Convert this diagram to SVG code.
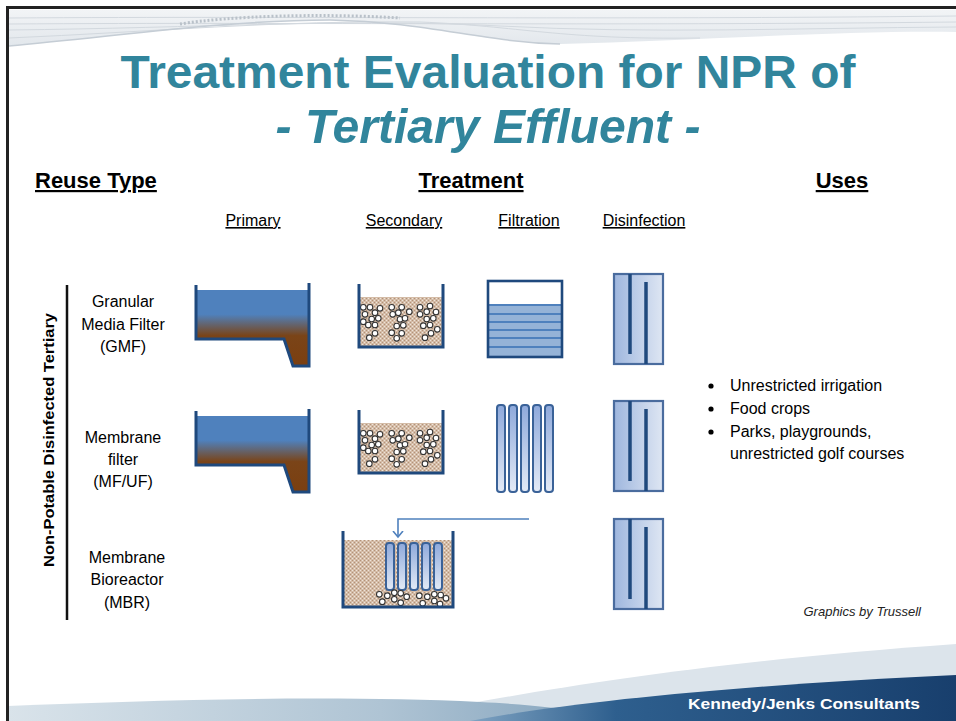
<svg xmlns="http://www.w3.org/2000/svg" xmlns:xlink="http://www.w3.org/1999/xlink" width="956" height="721" viewBox="0 0 956 721">
  <style>
    .title { font-family: "Liberation Sans", Arial, sans-serif; font-weight: bold; fill: #31859C; }
    .head { font-family: "Liberation Sans", Arial, sans-serif; font-weight: bold; font-size: 22px; fill: #000; text-decoration: underline; }
    .sub { font-family: "Liberation Sans", Arial, sans-serif; font-size: 16px; fill: #000; text-decoration: underline; }
    .lbl { font-family: "Liberation Sans", Arial, sans-serif; font-size: 16px; fill: #000; text-anchor: middle; }
    .use { font-family: "Liberation Sans", Arial, sans-serif; font-size: 16px; fill: #000; }
    .wall { fill: none; stroke: #1F497D; stroke-width: 3; stroke-linejoin: miter; }
    .bead { fill: #fff; stroke: #333; stroke-width: 1.1; }
    .tube { fill: url(#tubeGrad); stroke: #3A6298; stroke-width: 2; }
    .baffle { stroke: #1F497D; stroke-width: 3.5; }
    .conn { fill: none; stroke: #4F81BD; stroke-width: 1.6; }
  </style>
  <defs>
    <linearGradient id="waterGrad" gradientUnits="userSpaceOnUse" x1="0" y1="290" x2="0" y2="366">
      <stop offset="0" stop-color="#4F81BD"/>
      <stop offset="0.32" stop-color="#4F81BD"/>
      <stop offset="0.6" stop-color="#7A4418"/>
      <stop offset="1" stop-color="#7B3F10"/>
    </linearGradient>
    <linearGradient id="uvGrad" x1="0" y1="0" x2="1" y2="0">
      <stop offset="0" stop-color="#9FB7DE"/>
      <stop offset="1" stop-color="#DEE6F3"/>
    </linearGradient>
    <linearGradient id="tubeGrad" x1="0" y1="0" x2="0" y2="1">
      <stop offset="0" stop-color="#8EA9DB"/>
      <stop offset="1" stop-color="#E3EAF6"/>
    </linearGradient>
    <linearGradient id="bandGrad" x1="0" y1="0" x2="1" y2="0">
      <stop offset="0" stop-color="#D9E3EA"/>
      <stop offset="0.6" stop-color="#AFC4D4"/>
      <stop offset="1" stop-color="#7E9FBA"/>
    </linearGradient>
    <linearGradient id="darkGrad" x1="0" y1="0" x2="1" y2="0">
      <stop offset="0" stop-color="#7FA3C2"/>
      <stop offset="0.3" stop-color="#2E5F8E"/>
      <stop offset="1" stop-color="#183F6D"/>
    </linearGradient>
    <linearGradient id="topGrad" x1="0" y1="0" x2="0" y2="1">
      <stop offset="0" stop-color="#F2F4F6"/>
      <stop offset="1" stop-color="#E2E7EC"/>
    </linearGradient>
    <pattern id="sludge" width="4" height="4" patternUnits="userSpaceOnUse">
      <rect width="4" height="4" fill="#D4BCA7"/>
      <rect x="0" y="0" width="1" height="1" fill="#B39279"/>
      <rect x="2" y="2" width="1" height="1" fill="#B39279"/>
      <rect x="2" y="0" width="1" height="1" fill="#EEE4DA"/>
      <rect x="0" y="2" width="1" height="1" fill="#EEE4DA"/>
    </pattern>
    <marker id="chev" markerWidth="12" markerHeight="12" refX="6" refY="6" orient="auto" markerUnits="userSpaceOnUse">
      <polyline points="0,1 6,6 0,11" fill="none" stroke="#4F81BD" stroke-width="1.6"/>
    </marker>

    <!-- primary clarifier: sloped sump on the right -->
    <g id="primaryTank">
      <path d="M196,290 L309,290 L309,366 L293,366 L284,339 L196,339 Z" fill="url(#waterGrad)"/>
      <path class="wall" d="M196,285 L196,339 L284,339 L293,366 L309,366 L309,283"/>
    </g>

    <!-- activated sludge basin with floc -->
    <g id="secondaryTank">
      <rect x="359" y="297" width="84" height="50" fill="url(#sludge)"/>
      <g>
        <circle class="bead" cx="363.3" cy="307.3" r="2.8"/><circle class="bead" cx="370" cy="307.3" r="2.8"/>
        <circle class="bead" cx="380" cy="308.3" r="2.8"/><circle class="bead" cx="365" cy="314.3" r="2.8"/>
        <circle class="bead" cx="375" cy="312.7" r="2.8"/><circle class="bead" cx="371.7" cy="319" r="2.8"/>
        <circle class="bead" cx="378.3" cy="318.3" r="2.8"/><circle class="bead" cx="363.3" cy="321.7" r="2.8"/>
        <circle class="bead" cx="368.3" cy="325" r="2.8"/><circle class="bead" cx="375" cy="325" r="2.8"/>
        <circle class="bead" cx="369.3" cy="337.7" r="2.8"/><circle class="bead" cx="375" cy="333.3" r="2.8"/>
        <circle class="bead" cx="391.7" cy="307.3" r="2.8"/><circle class="bead" cx="398.3" cy="312.7" r="2.8"/>
        <circle class="bead" cx="401.7" cy="307.3" r="2.8"/><circle class="bead" cx="409.3" cy="311.7" r="2.8"/>
        <circle class="bead" cx="392.7" cy="314.3" r="2.8"/><circle class="bead" cx="400" cy="319.3" r="2.8"/>
        <circle class="bead" cx="405" cy="318.3" r="2.8"/><circle class="bead" cx="396.7" cy="326" r="2.8"/>
        <circle class="bead" cx="403.3" cy="325.3" r="2.8"/><circle class="bead" cx="391.7" cy="332.7" r="2.8"/>
        <circle class="bead" cx="401.7" cy="333.3" r="2.8"/><circle class="bead" cx="396.7" cy="338.3" r="2.8"/>
        <circle class="bead" cx="420" cy="307.3" r="2.8"/><circle class="bead" cx="426.7" cy="311.7" r="2.8"/>
        <circle class="bead" cx="430" cy="306" r="2.8"/><circle class="bead" cx="436" cy="312" r="2.8"/>
        <circle class="bead" cx="420" cy="314.3" r="2.8"/><circle class="bead" cx="426.7" cy="319" r="2.8"/>
        <circle class="bead" cx="433.3" cy="318.3" r="2.8"/><circle class="bead" cx="423.3" cy="325.7" r="2.8"/>
        <circle class="bead" cx="430" cy="325" r="2.8"/><circle class="bead" cx="437.3" cy="329.3" r="2.8"/>
        <circle class="bead" cx="431" cy="333.3" r="2.8"/><circle class="bead" cx="425" cy="337.7" r="2.8"/>
      </g>
      <path class="wall" d="M359,284 L359,347 L443,347 L443,284" stroke-width="2.6"/>
    </g>

    <!-- chlorine contact basin with two baffles -->
    <g id="disinfectTank">
      <rect x="614" y="274" width="49" height="90" fill="url(#uvGrad)" stroke="#4A6C9E" stroke-width="2.2"/>
      <line class="baffle" x1="630" y1="274" x2="630" y2="354"/>
      <line class="baffle" x1="646" y1="282" x2="646" y2="364"/>
    </g>
  </defs>

  <!-- slide background -->
  <rect width="956" height="721" fill="#fff"/>

  <!-- top swoosh -->
  <path d="M9,10 L956,10 L956,32 C860,30 700,40 560,44 C480,42 430,22 330,20 C230,20 120,36 9,46 Z" fill="url(#topGrad)"/>
  <g fill="none" stroke="#D3D9DF" stroke-width="1">
    <path d="M9,18 C300,16 600,20 956,16"/>
    <path d="M9,24 C300,22 600,26 956,22"/>
    <path d="M9,30 C200,28 350,18 500,26 C650,34 800,28 956,27"/>
    <path d="M9,38 C150,32 280,20 420,22 C520,26 560,40 700,38"/>
  </g>
  <path d="M180,24 C230,16 320,13 400,18" fill="none" stroke="#B9C1C9" stroke-width="3" stroke-dasharray="2 2"/>
  <path d="M9,46 C120,36 230,20 330,20 C430,22 480,42 560,44" fill="none" stroke="#C5CDD5" stroke-width="1.5"/>

  <!-- bottom swoosh -->
  <path d="M380,721 C520,692 700,662 956,644 L956,721 Z" fill="#DCE4EB"/>
  <path d="M8,706 C160,700 330,695 480,702 C560,706 600,714 630,721 L8,721 Z" fill="url(#bandGrad)"/>
  <path d="M470,721 C580,700 760,684 956,675 L956,721 Z" fill="url(#darkGrad)"/>

  <!-- slide frame -->
  <path d="M7.5,721 L7.5,7.5 L956,7.5" fill="none" stroke="#222" stroke-width="3"/>

  <!-- titles -->
  <text class="title" x="488" y="88" font-size="47" text-anchor="middle" textLength="735" lengthAdjust="spacingAndGlyphs">Treatment Evaluation for NPR of</text>
  <text class="title" x="488" y="143" font-size="48" font-style="italic" text-anchor="middle" textLength="425" lengthAdjust="spacingAndGlyphs">- Tertiary Effluent -</text>

  <!-- column headings -->
  <text class="head" x="35" y="188">Reuse Type</text>
  <text class="head" x="471" y="188" text-anchor="middle">Treatment</text>
  <text class="head" x="842" y="188" text-anchor="middle">Uses</text>

  <text class="sub" x="253" y="226" text-anchor="middle">Primary</text>
  <text class="sub" x="404" y="226" text-anchor="middle">Secondary</text>
  <text class="sub" x="529" y="226" text-anchor="middle">Filtration</text>
  <text class="sub" x="644" y="226" text-anchor="middle">Disinfection</text>

  <!-- reuse category -->
  <g id="category">
    <line x1="67" y1="285" x2="67" y2="620" stroke="#111" stroke-width="2.5"/>
    <text transform="translate(54,440) rotate(-90)" font-family="Liberation Sans, Arial, sans-serif" font-weight="bold" font-size="15.5" text-anchor="middle" textLength="254" lengthAdjust="spacingAndGlyphs">Non-Potable Disinfected Tertiary</text>
  </g>

  <!-- row 1: granular media filter -->
  <g id="row-gmf">
    <text class="lbl" x="123" y="307">Granular</text>
    <text class="lbl" x="123" y="330">Media Filter</text>
    <text class="lbl" x="123" y="352">(GMF)</text>
    <use xlink:href="#primaryTank"/>
    <use xlink:href="#secondaryTank"/>
    <g id="gmf-filter">
      <rect x="488" y="281" width="74" height="76" fill="#fff"/>
      <rect x="488" y="305" width="74" height="52" fill="#95B3D7"/>
      <g stroke="#4F81BD" stroke-width="2">
        <line x1="488" y1="305" x2="562" y2="305"/>
        <line x1="488" y1="314" x2="562" y2="314"/>
        <line x1="488" y1="322" x2="562" y2="322"/>
        <line x1="488" y1="330" x2="562" y2="330"/>
        <line x1="488" y1="338" x2="562" y2="338"/>
        <line x1="488" y1="347" x2="562" y2="347"/>
      </g>
      <rect x="488" y="281" width="74" height="76" fill="none" stroke="#1F497D" stroke-width="2.6"/>
    </g>
    <use xlink:href="#disinfectTank"/>
  </g>

  <!-- row 2: membrane filter -->
  <g id="row-mf">
    <text class="lbl" x="123" y="443">Membrane</text>
    <text class="lbl" x="123" y="465">filter</text>
    <text class="lbl" x="123" y="487">(MF/UF)</text>
    <use xlink:href="#primaryTank" transform="translate(0,126)"/>
    <use xlink:href="#secondaryTank" transform="translate(0,126)"/>
    <g id="mf-modules">
      <rect class="tube" x="497" y="405" width="8" height="87" rx="3"/>
      <rect class="tube" x="509" y="405" width="8" height="87" rx="3"/>
      <rect class="tube" x="521" y="405" width="8" height="87" rx="3"/>
      <rect class="tube" x="533" y="405" width="8" height="87" rx="3"/>
      <rect class="tube" x="545" y="405" width="8" height="87" rx="3"/>
    </g>
    <use xlink:href="#disinfectTank" transform="translate(0,127)"/>
  </g>

  <!-- row 3: membrane bioreactor -->
  <g id="row-mbr">
    <text class="lbl" x="127" y="563">Membrane</text>
    <text class="lbl" x="127" y="585">Bioreactor</text>
    <text class="lbl" x="127" y="608">(MBR)</text>
    <g id="mbr-basin">
      <rect x="343" y="540" width="110" height="67" fill="url(#sludge)"/>
      <rect class="tube" x="386" y="543" width="8" height="47" rx="3"/>
      <rect class="tube" x="398" y="543" width="8" height="47" rx="3"/>
      <rect class="tube" x="410" y="543" width="8" height="47" rx="3"/>
      <rect class="tube" x="422" y="543" width="8" height="47" rx="3"/>
      <rect class="tube" x="434" y="543" width="8" height="47" rx="3"/>
      <circle class="bead" cx="379.3" cy="594.3" r="2.8"/><circle class="bead" cx="387.3" cy="595.7" r="2.8"/>
      <circle class="bead" cx="394.3" cy="592.7" r="2.8"/><circle class="bead" cx="400.7" cy="593.3" r="2.8"/>
      <circle class="bead" cx="406.7" cy="596.7" r="2.8"/><circle class="bead" cx="382.3" cy="601.7" r="2.8"/>
      <circle class="bead" cx="394.3" cy="599.3" r="2.8"/><circle class="bead" cx="400.7" cy="602.7" r="2.8"/>
      <circle class="bead" cx="419.3" cy="595.7" r="2.8"/><circle class="bead" cx="427.3" cy="596.7" r="2.8"/>
      <circle class="bead" cx="434.3" cy="594.3" r="2.8"/><circle class="bead" cx="440.7" cy="595" r="2.8"/>
      <circle class="bead" cx="446" cy="598.3" r="2.8"/><circle class="bead" cx="422.7" cy="603.3" r="2.8"/>
      <circle class="bead" cx="434.3" cy="601" r="2.8"/><circle class="bead" cx="440" cy="604" r="2.8"/>
      <path class="wall" d="M343,531 L343,607 L453,607 L453,531" stroke-width="2.6"/>
    </g>
    <use xlink:href="#disinfectTank" transform="translate(0,245)"/>
  </g>

  <!-- connectors -->
  <g id="connectors">
    <path class="conn" d="M529,519 L398,519 L398,537" marker-end="url(#chev)"/>
  </g>

  <!-- uses -->
  <g id="uses">
    <circle cx="711" cy="386" r="2.6" fill="#000"/>
    <text class="use" x="730" y="391">Unrestricted irrigation</text>
    <circle cx="711" cy="409" r="2.6" fill="#000"/>
    <text class="use" x="730" y="414">Food crops</text>
    <circle cx="711" cy="432" r="2.6" fill="#000"/>
    <text class="use" x="730" y="437">Parks, playgrounds,</text>
    <text class="use" x="730" y="459">unrestricted golf courses</text>
  </g>

  <text x="921" y="616" text-anchor="end" font-family="Liberation Sans, Arial, sans-serif" font-size="13" font-style="italic" fill="#222">Graphics by Trussell</text>

  <text x="920" y="709" text-anchor="end" font-family="Liberation Sans, Arial, sans-serif" font-size="15" font-weight="bold" fill="#fff" textLength="232" lengthAdjust="spacingAndGlyphs">Kennedy/Jenks Consultants</text>
</svg>
